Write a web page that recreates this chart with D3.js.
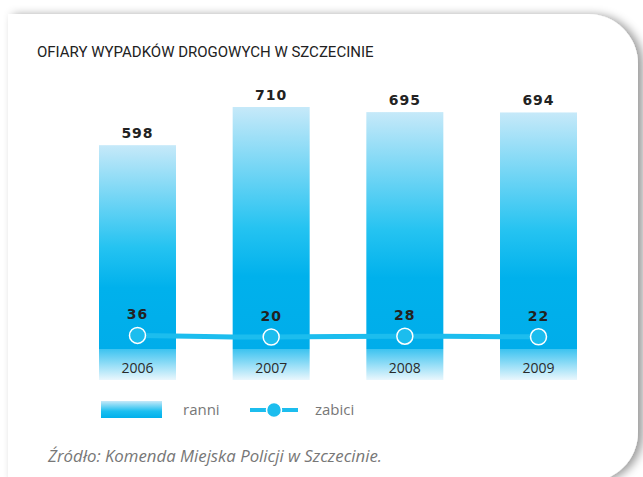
<!DOCTYPE html>
<html>
<head>
<meta charset="utf-8">
<script src="https://cdn.jsdelivr.net/npm/d3@7"></script>
<style>
  body { margin: 0; background: #fff; }
  svg { display: block; }
</style>
</head>
<body>
<div id="chart"></div>
<script>
const years = ["2006", "2007", "2008", "2009"];
const ranni = [598, 710, 695, 694];
const zabici = [36, 20, 28, 22];

const width = 643, height = 477;

const svg = d3.select("#chart")
  .append("svg")
    .attr("width", width)
    .attr("height", height);

const defs = svg.append("defs");

const shadow = defs.append("filter")
  .attr("id", "shadow")
  .attr("x", "-10%").attr("y", "-10%")
  .attr("width", "130%").attr("height", "130%");
shadow.append("feGaussianBlur").attr("in", "SourceAlpha").attr("stdDeviation", 5);
shadow.append("feOffset").attr("dx", 5).attr("dy", 1).attr("result", "blur");
shadow.append("feFlood").attr("flood-color", "#000").attr("flood-opacity", 0.4);
shadow.append("feComposite").attr("in2", "blur").attr("operator", "in");
const merge = shadow.append("feMerge");
merge.append("feMergeNode");
merge.append("feMergeNode").attr("in", "SourceGraphic");

const barGrad = defs.append("linearGradient")
  .attr("id", "barGrad")
  .attr("x1", 0).attr("y1", 0).attr("x2", 0).attr("y2", 1);
barGrad.append("stop").attr("offset", "0%").attr("stop-color", "#c6e9f9");
barGrad.append("stop").attr("offset", "50%").attr("stop-color", "#25c3f1");
barGrad.append("stop").attr("offset", "70%").attr("stop-color", "#00b1ec");
barGrad.append("stop").attr("offset", "100%").attr("stop-color", "#00adea");

const bandGrad = defs.append("linearGradient")
  .attr("id", "bandGrad")
  .attr("x1", 0).attr("y1", 0).attr("x2", 0).attr("y2", 1);
bandGrad.append("stop").attr("offset", "0%").attr("stop-color", "#3cc3f0");
bandGrad.append("stop").attr("offset", "100%").attr("stop-color", "#eaf7fd");

const legGrad = defs.append("linearGradient")
  .attr("id", "legGrad")
  .attr("x1", 0).attr("y1", 0).attr("x2", 0).attr("y2", 1);
legGrad.append("stop").attr("offset", "0%").attr("stop-color", "#c6e9f9");
legGrad.append("stop").attr("offset", "60%").attr("stop-color", "#1cbff0");
legGrad.append("stop").attr("offset", "100%").attr("stop-color", "#00b0ec");

// card: square left side, rounded right corners, runs off the bottom
svg.append("path")
  .attr("d", "M8,14 H588 A50,50 0 0 1 638,64 V432 A50,50 0 0 1 588,482 H8 Z")
  .attr("fill", "#fff")
  .attr("filter", "url(#shadow)");

svg.append("text")
  .attr("x", 37).attr("y", 57)
  .attr("font-family", "'Liberation Sans Narrow', 'Roboto', sans-serif")
  .attr("font-size", 15)
  .attr("fill", "#222")
  .text("OFIARY WYPADKÓW DROGOWYCH W SZCZECINIE");

const x = d3.scaleBand()
  .domain(years)
  .range([99, 577])
  .paddingInner(0.424);

const y = d3.scaleLinear()
  .domain([0, 710])
  .range([349, 107]);

const yLine = d3.scaleLinear()
  .domain([0, 40])
  .range([339, 335]);

const g = svg.append("g");

g.selectAll("rect.bar")
  .data(years)
  .join("rect")
    .attr("class", "bar")
    .attr("x", d => x(d))
    .attr("y", (d, i) => y(ranni[i]))
    .attr("width", x.bandwidth())
    .attr("height", (d, i) => y(0) - y(ranni[i]))
    .attr("fill", "url(#barGrad)");

g.selectAll("rect.band")
  .data(years)
  .join("rect")
    .attr("class", "band")
    .attr("x", d => x(d))
    .attr("y", y(0))
    .attr("width", x.bandwidth())
    .attr("height", 31)
    .attr("fill", "url(#bandGrad)");

g.selectAll("text.year")
  .data(years)
  .join("text")
    .attr("class", "year")
    .attr("x", d => x(d) + x.bandwidth() / 2)
    .attr("y", 373)
    .attr("text-anchor", "middle")
    .attr("font-family", "'Open Sans', sans-serif")
    .attr("font-size", 14)
    .attr("fill", "#2a2a2a")
    .text(d => d);

g.selectAll("text.val")
  .data(years)
  .join("text")
    .attr("class", "val")
    .attr("x", d => x(d) + x.bandwidth() / 2)
    .attr("y", (d, i) => y(ranni[i]) - 7)
    .attr("text-anchor", "middle")
    .attr("font-family", "'DejaVu Sans', sans-serif")
    .attr("font-weight", "bold")
    .attr("font-size", 14)
    .attr("letter-spacing", 1)
    .attr("fill", "#222")
    .text((d, i) => ranni[i]);

const line = d3.line()
  .x((d, i) => x(years[i]) + x.bandwidth() / 2)
  .y(d => yLine(d))
  .curve(d3.curveMonotoneX);

g.append("path")
  .datum(zabici)
  .attr("d", line)
  .attr("fill", "none")
  .attr("stroke", "#1cbdee")
  .attr("stroke-width", 5);

g.selectAll("circle.pt")
  .data(zabici)
  .join("circle")
    .attr("class", "pt")
    .attr("cx", (d, i) => x(years[i]) + x.bandwidth() / 2)
    .attr("cy", d => yLine(d))
    .attr("r", 8)
    .attr("fill", "#1cbdee")
    .attr("stroke", "#fff")
    .attr("stroke-width", 1.5);

g.selectAll("text.zab")
  .data(zabici)
  .join("text")
    .attr("class", "zab")
    .attr("x", (d, i) => x(years[i]) + x.bandwidth() / 2)
    .attr("y", d => yLine(d) - 16)
    .attr("text-anchor", "middle")
    .attr("font-family", "'DejaVu Sans', sans-serif")
    .attr("font-weight", "bold")
    .attr("font-size", 14)
    .attr("letter-spacing", 1)
    .attr("fill", "#222")
    .text(d => d);

// legend
const legend = svg.append("g");
legend.append("rect")
  .attr("x", 101).attr("y", 401)
  .attr("width", 61).attr("height", 17)
  .attr("fill", "url(#legGrad)");
legend.append("text")
  .attr("x", 183).attr("y", 415)
  .attr("font-family", "'Open Sans', sans-serif")
  .attr("font-size", 15)
  .attr("fill", "#777")
  .text("ranni");
legend.append("line")
  .attr("x1", 250).attr("x2", 298)
  .attr("y1", 410).attr("y2", 410)
  .attr("stroke", "#1cbdee")
  .attr("stroke-width", 4);
legend.append("circle")
  .attr("cx", 274).attr("cy", 410).attr("r", 7.5)
  .attr("fill", "#1cbdee")
  .attr("stroke", "#fff")
  .attr("stroke-width", 1.5);
legend.append("text")
  .attr("x", 315).attr("y", 415)
  .attr("font-family", "'Open Sans', sans-serif")
  .attr("font-size", 15)
  .attr("fill", "#777")
  .text("zabici");

svg.append("text")
  .attr("x", 48).attr("y", 462)
  .attr("font-family", "'Open Sans', sans-serif")
  .attr("font-style", "italic")
  .attr("font-size", 16.8)
  .attr("fill", "#777")
  .text("Źródło: Komenda Miejska Policji w Szczecinie.");
</script>
</body>
</html>
